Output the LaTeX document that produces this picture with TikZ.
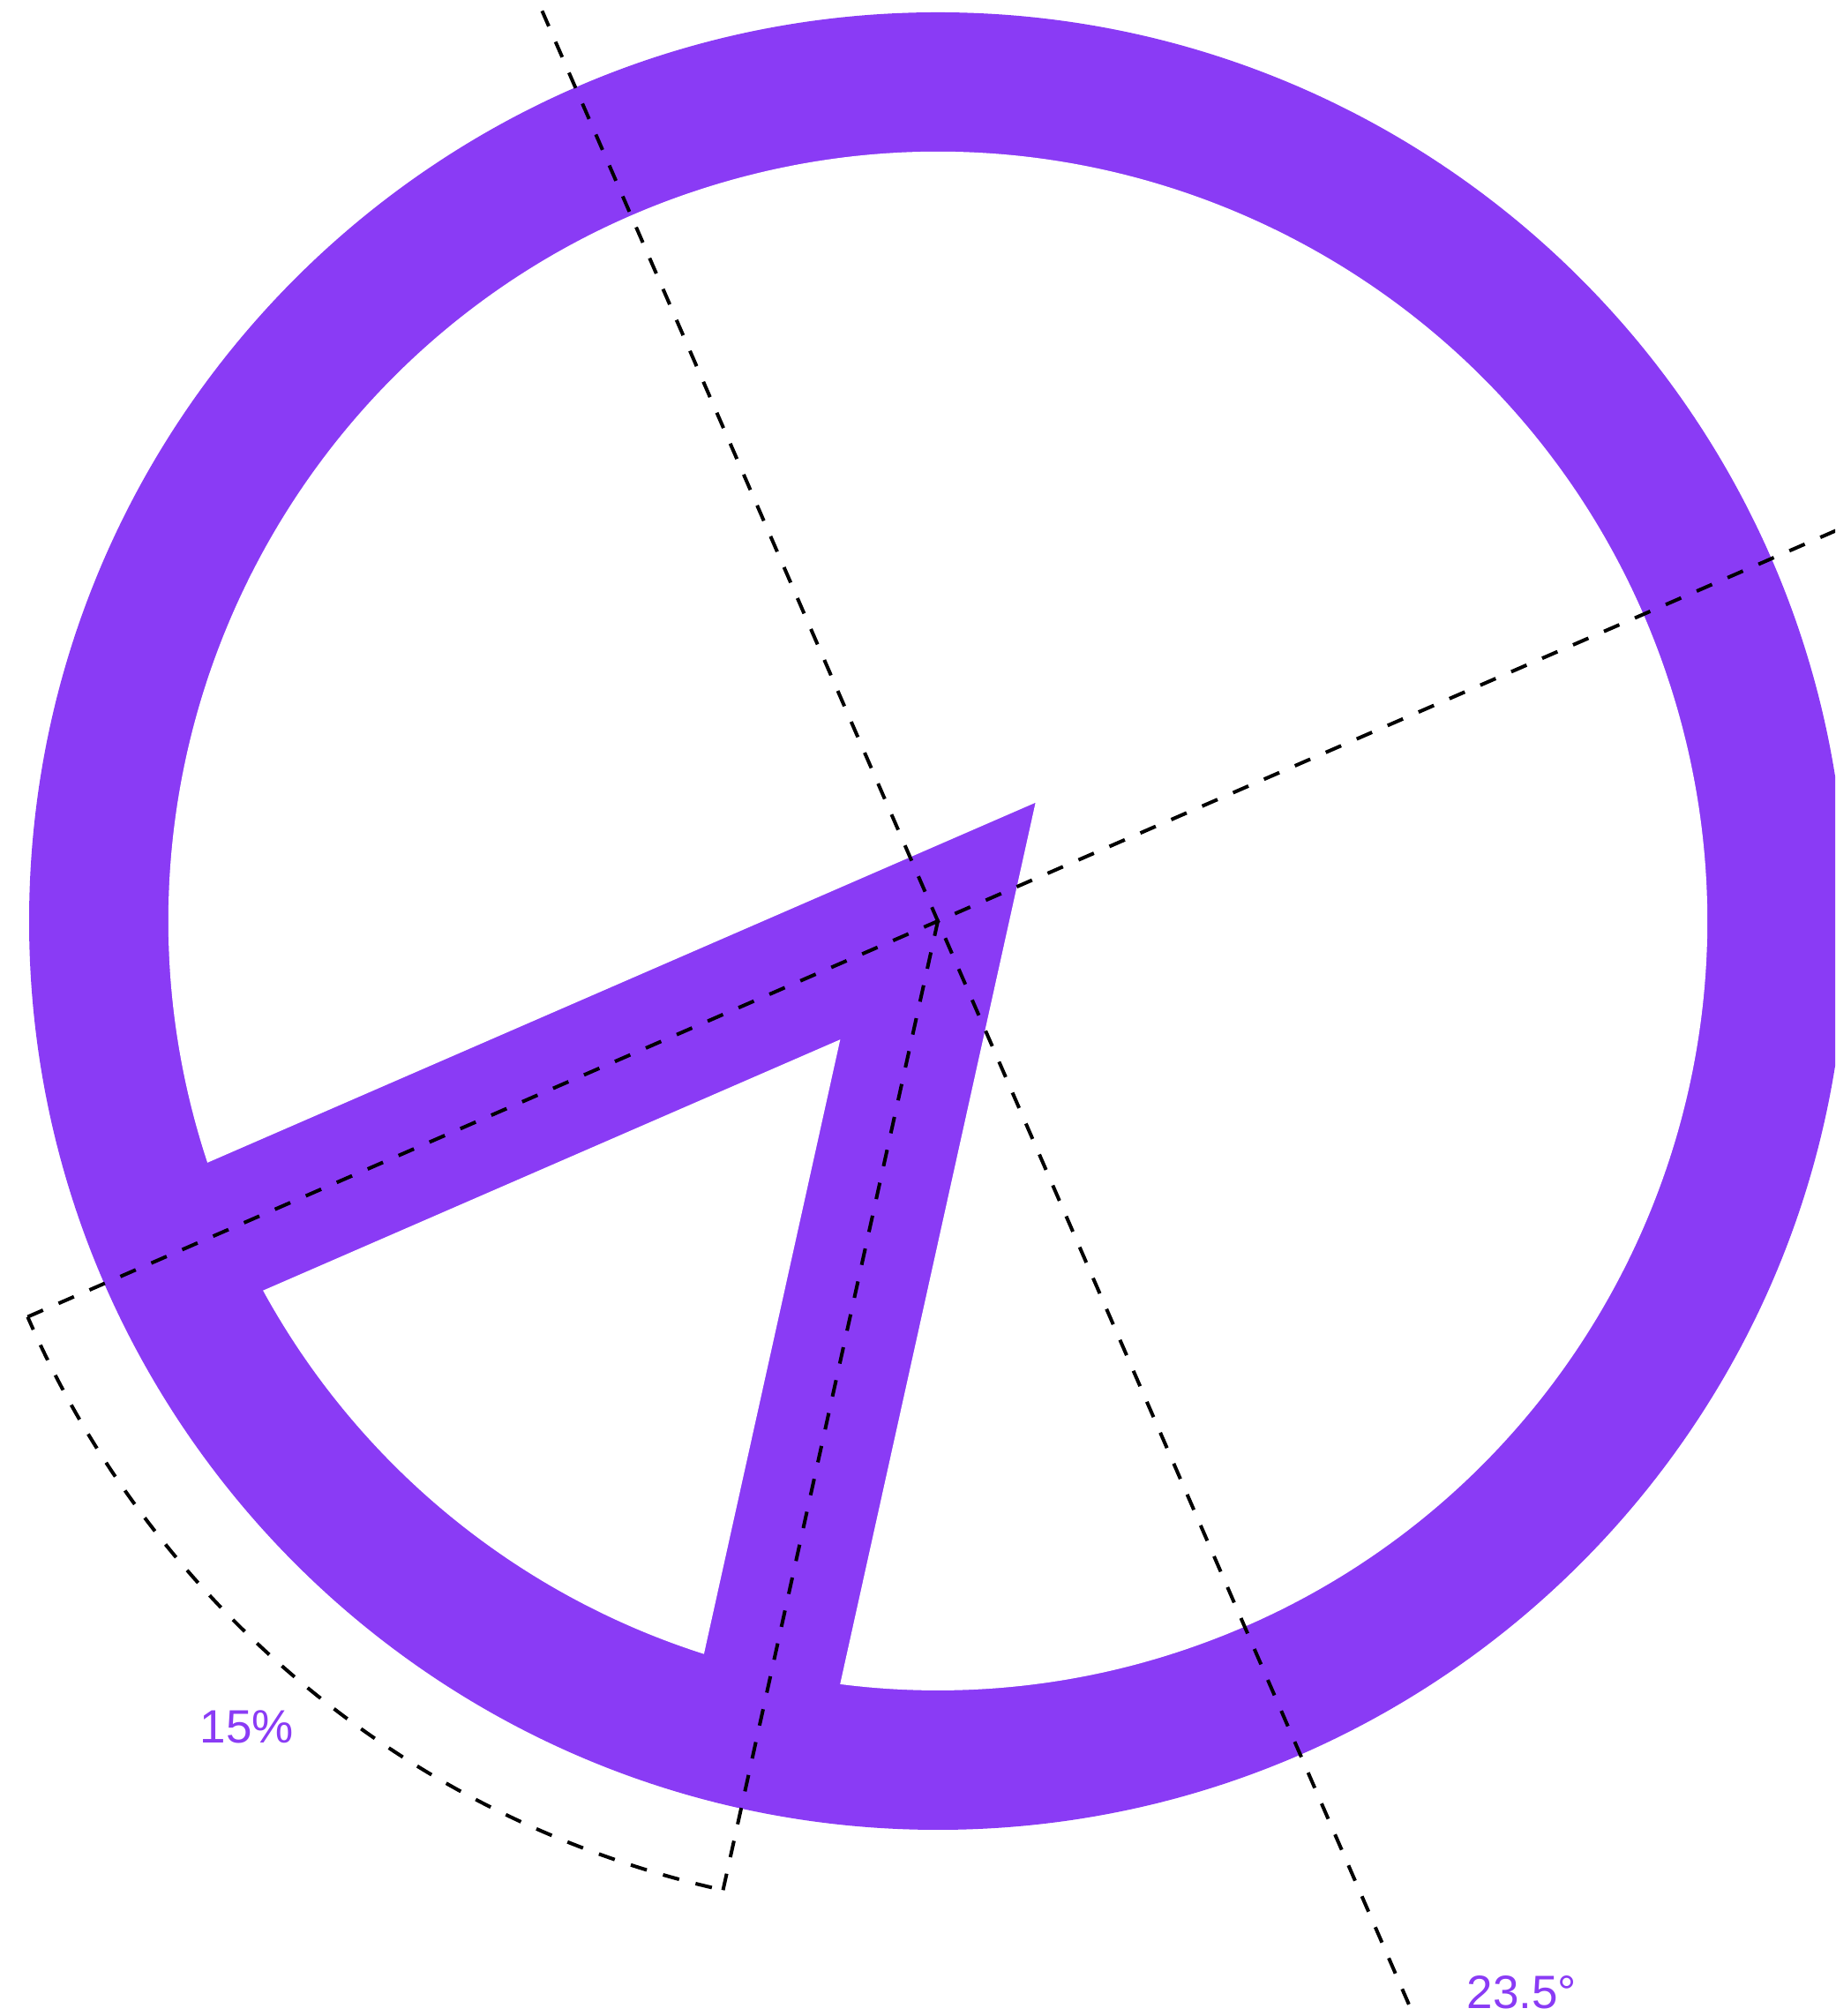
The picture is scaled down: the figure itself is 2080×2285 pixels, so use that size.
\documentclass[tikz,border=0pt]{standalone}
\usepackage{fontspec}
\setmainfont{Liberation Sans}
\usetikzlibrary{calc}
\definecolor{purp}{HTML}{8A3BF5}
\tikzset{
  dashline/.style={black,line width=4pt,dash pattern=on 19pt off 19.2pt},
  lbl/.style={text=purp,font=\fontsize{53}{60}\selectfont,inner sep=0pt}
}
\begin{document}
\begin{tikzpicture}[x=1pt,y=1pt]
\useasboundingbox (0,0) rectangle (2080,2285);
\fill[white] (0,0) rectangle (2080,2285);
\clip (0,0) rectangle (2080,2285);
\coordinate (C) at (1063,1241);
\coordinate (A1) at ($(C)+(50.5:174)$);
\coordinate (A2) at ($(C)+(230.5:174)$);
% ring / pie
\fill[purp] (C) circle (1030);
\fill[white] ($(C)+(262.7:872)$) -- (A1) -- ($(C)+(198.3:872)$)
   arc[start angle=198.3,end angle=-97.3,radius=872] -- cycle;
\fill[white] (A2) -- ($(C)+(208.7:872)$)
   arc[start angle=208.7,end angle=252.3,radius=872] -- cycle;
% dashed guides
\coordinate (L1) at ($(C)+(203.5:1125)$);
\coordinate (R1) at ($(C)+(23.5:1500)$);
\coordinate (T2) at ($(C)+(113.5:1125)$);
\coordinate (B2) at ($(C)+(293.5:1500)$);
\coordinate (B3) at ($(C)+(257.5:1125)$);
\draw[dashline] (L1) -- (R1);
\draw[dashline] (T2) -- (B2);
\draw[dashline] (B3) -- (C);
\draw[dashline,dash phase=25.2pt] (B3) arc[start angle=257.5,end angle=203.5,radius=1125];
% labels
\node[lbl] (pct) at (280,328) {15\%};
\node[lbl] (deg) at (1725,27) {23.5°};
\end{tikzpicture}
\end{document}
